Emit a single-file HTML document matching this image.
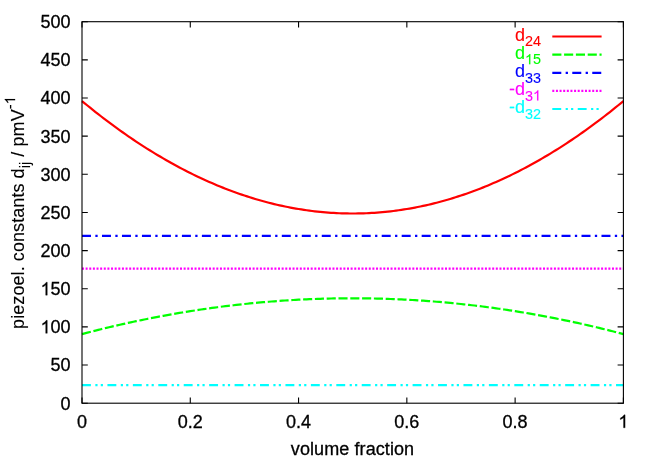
<!DOCTYPE html>
<html><head><meta charset="utf-8"><title>plot</title>
<style>html,body{margin:0;padding:0;background:#fff;}svg{display:block;will-change:transform;}text{font-family:"Liberation Sans",sans-serif;}</style></head><body>
<svg width="654" height="458" viewBox="0 0 654 458">
<rect x="0" y="0" width="654" height="458" fill="#ffffff"/>
<g fill="none" stroke-width="2.2" stroke-linecap="butt" stroke-linejoin="round">
<polyline points="82.00,101.05 84.71,103.29 87.41,105.51 90.12,107.70 92.83,109.87 95.53,112.02 98.24,114.14 100.95,116.25 103.66,118.33 106.36,120.38 109.07,122.42 111.78,124.43 114.48,126.42 117.19,128.39 119.90,130.34 122.60,132.26 125.31,134.16 128.02,136.04 130.73,137.90 133.43,139.73 136.14,141.54 138.85,143.33 141.55,145.09 144.26,146.84 146.97,148.56 149.68,150.26 152.38,151.93 155.09,153.58 157.80,155.22 160.50,156.82 163.21,158.41 165.92,159.97 168.62,161.51 171.33,163.03 174.04,164.53 176.75,166.00 179.45,167.45 182.16,168.88 184.87,170.29 187.57,171.67 190.28,173.03 192.99,174.37 195.69,175.68 198.40,176.98 201.11,178.25 203.81,179.50 206.52,180.72 209.23,181.93 211.94,183.11 214.64,184.27 217.35,185.40 220.06,186.52 222.76,187.61 225.47,188.67 228.18,189.72 230.89,190.74 233.59,191.74 236.30,192.72 239.01,193.68 241.71,194.61 244.42,195.52 247.13,196.41 249.83,197.28 252.54,198.12 255.25,198.94 257.96,199.74 260.66,200.52 263.37,201.27 266.08,202.00 268.78,202.71 271.49,203.40 274.20,204.06 276.90,204.70 279.61,205.32 282.32,205.92 285.02,206.49 287.73,207.04 290.44,207.57 293.15,208.07 295.85,208.56 298.56,209.02 301.27,209.46 303.97,209.87 306.68,210.27 309.39,210.64 312.09,210.99 314.80,211.31 317.51,211.62 320.22,211.90 322.92,212.16 325.63,212.39 328.34,212.61 331.04,212.80 333.75,212.97 336.46,213.11 339.16,213.24 341.87,213.34 344.58,213.42 347.29,213.47 349.99,213.51 352.70,213.52 355.41,213.51 358.11,213.47 360.82,213.42 363.53,213.34 366.24,213.24 368.94,213.11 371.65,212.97 374.36,212.80 377.06,212.61 379.77,212.39 382.48,212.16 385.18,211.90 387.89,211.62 390.60,211.31 393.30,210.99 396.01,210.64 398.72,210.27 401.43,209.87 404.13,209.46 406.84,209.02 409.55,208.56 412.25,208.07 414.96,207.57 417.67,207.04 420.38,206.49 423.08,205.92 425.79,205.32 428.50,204.70 431.20,204.06 433.91,203.40 436.62,202.71 439.32,202.00 442.03,201.27 444.74,200.52 447.44,199.74 450.15,198.94 452.86,198.12 455.57,197.28 458.27,196.41 460.98,195.52 463.69,194.61 466.39,193.68 469.10,192.72 471.81,191.74 474.51,190.74 477.22,189.72 479.93,188.67 482.64,187.61 485.34,186.52 488.05,185.40 490.76,184.27 493.46,183.11 496.17,181.93 498.88,180.72 501.58,179.50 504.29,178.25 507.00,176.98 509.71,175.68 512.41,174.37 515.12,173.03 517.83,171.67 520.53,170.29 523.24,168.88 525.95,167.45 528.65,166.00 531.36,164.53 534.07,163.03 536.78,161.51 539.48,159.97 542.19,158.41 544.90,156.82 547.60,155.22 550.31,153.58 553.02,151.93 555.72,150.26 558.43,148.56 561.14,146.84 563.85,145.09 566.55,143.33 569.26,141.54 571.97,139.73 574.67,137.90 577.38,136.04 580.09,134.16 582.80,132.26 585.50,130.34 588.21,128.39 590.92,126.42 593.62,124.43 596.33,122.42 599.04,120.38 601.74,118.33 604.45,116.25 607.16,114.14 609.87,112.02 612.57,109.87 615.28,107.70 617.99,105.51 620.69,103.29 623.40,101.05" stroke="#ff0000"/>
<polyline points="82.00,334.07 84.71,333.36 87.41,332.66 90.12,331.96 92.83,331.27 95.53,330.58 98.24,329.91 100.95,329.24 103.66,328.58 106.36,327.92 109.07,327.27 111.78,326.63 114.48,326.00 117.19,325.37 119.90,324.75 122.60,324.14 125.31,323.54 128.02,322.94 130.73,322.35 133.43,321.77 136.14,321.19 138.85,320.62 141.55,320.06 144.26,319.50 146.97,318.96 149.68,318.42 152.38,317.88 155.09,317.36 157.80,316.84 160.50,316.33 163.21,315.82 165.92,315.32 168.62,314.83 171.33,314.35 174.04,313.88 176.75,313.41 179.45,312.94 182.16,312.49 184.87,312.04 187.57,311.60 190.28,311.17 192.99,310.74 195.69,310.33 198.40,309.91 201.11,309.51 203.81,309.11 206.52,308.72 209.23,308.34 211.94,307.96 214.64,307.60 217.35,307.23 220.06,306.88 222.76,306.53 225.47,306.19 228.18,305.86 230.89,305.53 233.59,305.22 236.30,304.90 239.01,304.60 241.71,304.30 244.42,304.01 247.13,303.73 249.83,303.45 252.54,303.19 255.25,302.93 257.96,302.67 260.66,302.42 263.37,302.18 266.08,301.95 268.78,301.73 271.49,301.51 274.20,301.30 276.90,301.09 279.61,300.90 282.32,300.71 285.02,300.52 287.73,300.35 290.44,300.18 293.15,300.02 295.85,299.87 298.56,299.72 301.27,299.58 303.97,299.45 306.68,299.32 309.39,299.20 312.09,299.09 314.80,298.99 317.51,298.89 320.22,298.80 322.92,298.72 325.63,298.65 328.34,298.58 331.04,298.52 333.75,298.46 336.46,298.42 339.16,298.38 341.87,298.34 344.58,298.32 347.29,298.30 349.99,298.29 352.70,298.29 355.41,298.29 358.11,298.30 360.82,298.32 363.53,298.34 366.24,298.38 368.94,298.42 371.65,298.46 374.36,298.52 377.06,298.58 379.77,298.65 382.48,298.72 385.18,298.80 387.89,298.89 390.60,298.99 393.30,299.09 396.01,299.20 398.72,299.32 401.43,299.45 404.13,299.58 406.84,299.72 409.55,299.87 412.25,300.02 414.96,300.18 417.67,300.35 420.38,300.52 423.08,300.71 425.79,300.90 428.50,301.09 431.20,301.30 433.91,301.51 436.62,301.73 439.32,301.95 442.03,302.18 444.74,302.42 447.44,302.67 450.15,302.93 452.86,303.19 455.57,303.45 458.27,303.73 460.98,304.01 463.69,304.30 466.39,304.60 469.10,304.90 471.81,305.22 474.51,305.53 477.22,305.86 479.93,306.19 482.64,306.53 485.34,306.88 488.05,307.23 490.76,307.60 493.46,307.96 496.17,308.34 498.88,308.72 501.58,309.11 504.29,309.51 507.00,309.91 509.71,310.33 512.41,310.74 515.12,311.17 517.83,311.60 520.53,312.04 523.24,312.49 525.95,312.94 528.65,313.41 531.36,313.88 534.07,314.35 536.78,314.83 539.48,315.32 542.19,315.82 544.90,316.33 547.60,316.84 550.31,317.36 553.02,317.88 555.72,318.42 558.43,318.96 561.14,319.50 563.85,320.06 566.55,320.62 569.26,321.19 571.97,321.77 574.67,322.35 577.38,322.94 580.09,323.54 582.80,324.14 585.50,324.75 588.21,325.37 590.92,326.00 593.62,326.63 596.33,327.27 599.04,327.92 601.74,328.58 604.45,329.24 607.16,329.91 609.87,330.58 612.57,331.27 615.28,331.96 617.99,332.66 620.69,333.36 623.40,334.07" stroke="#00ff00" stroke-dasharray="9.1 2.7"/>
<line x1="82.0" x2="623.4" y1="235.95" y2="235.95" stroke="#0000ff" stroke-dasharray="9.0 4.35 2.3 4.33"/>
<line x1="82.0" x2="623.4" y1="268.53" y2="268.53" stroke="#ff00ff" stroke-dasharray="2.0 1.63"/>
<line x1="82.0" x2="623.4" y1="385.12" y2="385.12" stroke="#00ffff" stroke-dasharray="8.9 4.45 2.2 3.2 2.2 4.48"/>
<line x1="552.3" x2="601.6" y1="36.5" y2="36.5" stroke="#ff0000"/>
<line x1="552.3" x2="601.6" y1="54.6" y2="54.6" stroke="#00ff00" stroke-dasharray="9.1 2.7"/>
<line x1="552.3" x2="601.6" y1="72.8" y2="72.8" stroke="#0000ff" stroke-dasharray="9.0 4.35 2.3 4.33"/>
<line x1="552.3" x2="601.6" y1="90.9" y2="90.9" stroke="#ff00ff" stroke-dasharray="2.0 1.63"/>
<line x1="552.3" x2="601.6" y1="109.0" y2="109.0" stroke="#00ffff" stroke-dasharray="8.9 4.45 2.2 3.2 2.2 4.48"/>
</g>
<g fill="none" stroke="#000" stroke-width="1.1" stroke-linecap="butt">
<rect x="82.0" y="21.7" width="541.40" height="381.50"/>
<path d="M82.0 403.20h5.8M623.4 403.20h-5.8"/>
<path d="M82.0 365.05h5.8M623.4 365.05h-5.8"/>
<path d="M82.0 326.90h5.8M623.4 326.90h-5.8"/>
<path d="M82.0 288.75h5.8M623.4 288.75h-5.8"/>
<path d="M82.0 250.60h5.8M623.4 250.60h-5.8"/>
<path d="M82.0 212.45h5.8M623.4 212.45h-5.8"/>
<path d="M82.0 174.30h5.8M623.4 174.30h-5.8"/>
<path d="M82.0 136.15h5.8M623.4 136.15h-5.8"/>
<path d="M82.0 98.00h5.8M623.4 98.00h-5.8"/>
<path d="M82.0 59.85h5.8M623.4 59.85h-5.8"/>
<path d="M82.0 21.70h5.8M623.4 21.70h-5.8"/>
<path d="M82.00 403.2v-5.8M82.00 21.7v5.8"/>
<path d="M190.28 403.2v-5.8M190.28 21.7v5.8"/>
<path d="M298.56 403.2v-5.8M298.56 21.7v5.8"/>
<path d="M406.84 403.2v-5.8M406.84 21.7v5.8"/>
<path d="M515.12 403.2v-5.8M515.12 21.7v5.8"/>
<path d="M623.40 403.2v-5.8M623.40 21.7v5.8"/>
</g>
<g font-size="18" fill="#000" stroke="#000" stroke-width="0.3">
<text x="70.6" y="409.60" text-anchor="end">0</text>
<text x="70.6" y="371.45" text-anchor="end">50</text>
<path transform="translate(40.565,333.300) scale(0.008789,-0.008789)" d="M763 0H583V1147Q518 1085 412.5 1023Q307 961 223 930V1104Q374 1175 487 1276Q600 1377 647 1472H763Z" fill="#000" stroke="#000" stroke-width="34.1"/>
<text x="70.6" y="333.30" text-anchor="end">00</text>
<path transform="translate(40.565,295.150) scale(0.008789,-0.008789)" d="M763 0H583V1147Q518 1085 412.5 1023Q307 961 223 930V1104Q374 1175 487 1276Q600 1377 647 1472H763Z" fill="#000" stroke="#000" stroke-width="34.1"/>
<text x="70.6" y="295.15" text-anchor="end">50</text>
<text x="70.6" y="257.00" text-anchor="end">200</text>
<text x="70.6" y="218.85" text-anchor="end">250</text>
<text x="70.6" y="180.70" text-anchor="end">300</text>
<text x="70.6" y="142.55" text-anchor="end">350</text>
<text x="70.6" y="104.40" text-anchor="end">400</text>
<text x="70.6" y="66.25" text-anchor="end">450</text>
<text x="70.6" y="28.10" text-anchor="end">500</text>
<text x="82.00" y="427.8" text-anchor="middle">0</text>
<text x="190.28" y="427.8" text-anchor="middle">0.2</text>
<text x="298.56" y="427.8" text-anchor="middle">0.4</text>
<text x="406.84" y="427.8" text-anchor="middle">0.6</text>
<text x="515.12" y="427.8" text-anchor="middle">0.8</text>
<path transform="translate(618.394,427.800) scale(0.008789,-0.008789)" d="M763 0H583V1147Q518 1085 412.5 1023Q307 961 223 930V1104Q374 1175 487 1276Q600 1377 647 1472H763Z" fill="#000" stroke="#000" stroke-width="34.1"/>
<text x="352.5" y="455.4" text-anchor="middle" letter-spacing="0.09">volume fraction</text>
<g transform="translate(24.1,328.9) rotate(-90)" stroke-width="0.12">
<text x="0" y="0" letter-spacing="0.075">piezoel. constants d<tspan font-size="14.4" dy="5.4">ij</tspan><tspan dy="-5.4"> / pmV</tspan><tspan font-size="14.4" dy="-9">-</tspan></text>
<path transform="translate(224.482,-9.000) scale(0.007031,-0.007031)" d="M763 0H583V1147Q518 1085 412.5 1023Q307 961 223 930V1104Q374 1175 487 1276Q600 1377 647 1472H763Z" fill="#000" stroke="#000" stroke-width="17.1"/>
</g>
</g>
<g font-size="18" stroke-width="0.1">
<text x="541.0" y="40.60" text-anchor="end" fill="#ff0000" stroke="#ff0000">d<tspan font-size="14.4" dy="5.6">24</tspan></text>
<path transform="translate(524.981,64.300) scale(0.007031,-0.007031)" d="M763 0H583V1147Q518 1085 412.5 1023Q307 961 223 930V1104Q374 1175 487 1276Q600 1377 647 1472H763Z" fill="#00ff00" stroke="#00ff00" stroke-width="14.2"/>
<text y="58.70" fill="#00ff00" stroke="#00ff00"><tspan x="524.981" text-anchor="end">d</tspan><tspan x="541.000" text-anchor="end" font-size="14.4" dy="5.6">5</tspan></text>
<text x="541.0" y="76.90" text-anchor="end" fill="#0000ff" stroke="#0000ff">d<tspan font-size="14.4" dy="5.6">33</tspan></text>
<path transform="translate(532.991,100.600) scale(0.007031,-0.007031)" d="M763 0H583V1147Q518 1085 412.5 1023Q307 961 223 930V1104Q374 1175 487 1276Q600 1377 647 1472H763Z" fill="#ff00ff" stroke="#ff00ff" stroke-width="14.2"/>
<text x="532.991" y="95.00" text-anchor="end" fill="#ff00ff" stroke="#ff00ff">-d<tspan font-size="14.4" dy="5.6">3</tspan></text>
<text x="541.0" y="113.10" text-anchor="end" fill="#00ffff" stroke="#00ffff">-d<tspan font-size="14.4" dy="5.6">32</tspan></text>
</g>
</svg></body></html>
